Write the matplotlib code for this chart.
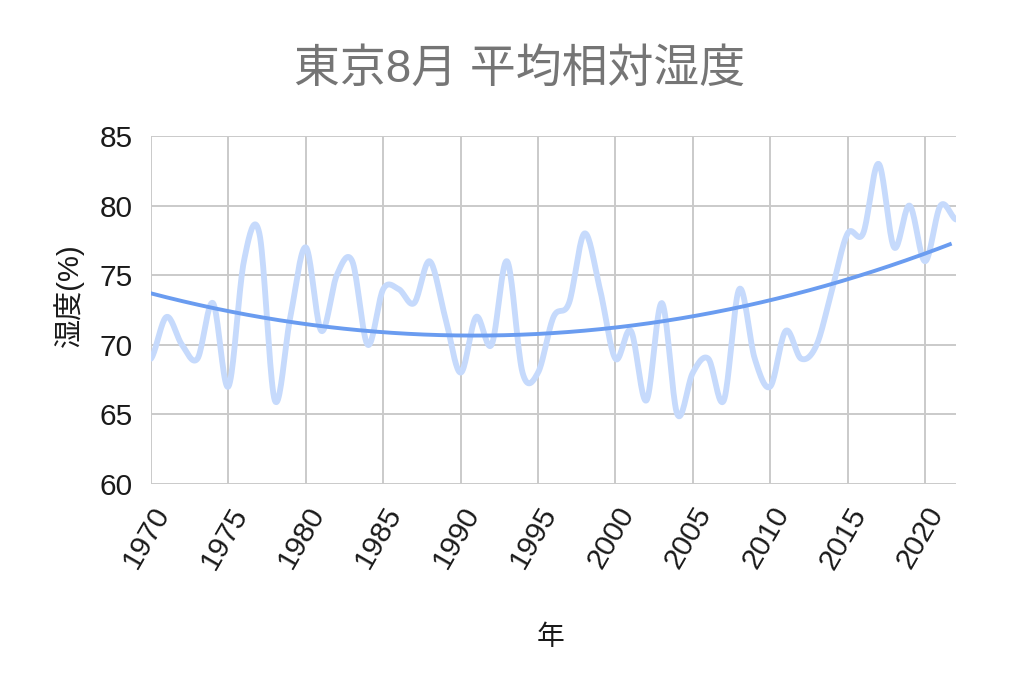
import numpy as np
import matplotlib.pyplot as plt

plt.rcParams['font.family'] = ['Liberation Sans', 'Noto Sans CJK JP', 'DejaVu Sans']

# 年と8月の平均相対湿度(%)
years = np.arange(1970, 2023)
humidity = np.array([
    69, 72, 70, 69, 73, 67, 76, 78, 66, 72,   # 1970-1979
    77, 71, 75, 76, 70, 74, 74, 73, 76, 72,   # 1980-1989
    68, 72, 70, 76, 68, 68, 72, 73, 78, 74,   # 1990-1999
    69, 71, 66, 73, 65, 68, 69, 66, 74, 69,   # 2000-2009
    67, 71, 69, 70, 74, 78, 78, 83, 77, 80,   # 2010-2019
    76, 80, 79,                               # 2020-2022
])
xticks = np.arange(1970, 2021, 5)
yticks = np.arange(60, 86, 5)


def smooth(x, y, n=20, t=0.5):
    # cardinal spline through the points (like the sheet's smooth line)
    xs, ys = [], []
    px = np.concatenate([[2 * x[0] - x[1]], x, [2 * x[-1] - x[-2]]])
    py = np.concatenate([[y[0]], y, [y[-1]]])
    s = np.linspace(0, 1, n, endpoint=False)
    h00 = 2 * s**3 - 3 * s**2 + 1
    h10 = s**3 - 2 * s**2 + s
    h01 = -2 * s**3 + 3 * s**2
    h11 = s**3 - s**2
    for i in range(1, len(px) - 2):
        mx0 = t * (px[i + 1] - px[i - 1]); mx1 = t * (px[i + 2] - px[i])
        my0 = t * (py[i + 1] - py[i - 1]); my1 = t * (py[i + 2] - py[i])
        xs.append(h00 * px[i] + h10 * mx0 + h01 * px[i + 1] + h11 * mx1)
        ys.append(h00 * py[i] + h10 * my0 + h01 * py[i + 1] + h11 * my1)
    xs.append([x[-1]]); ys.append([y[-1]])
    return np.concatenate(xs), np.concatenate(ys)


sx, sy = smooth(years.astype(float), humidity.astype(float))

# 2次の近似曲線
coef = np.polyfit(years - 1970, humidity, 2)
tx = np.linspace(1970, 2021.6, 200)
ty = np.polyval(coef, tx - 1970)

fig = plt.figure(figsize=(10.24, 6.81), dpi=100)
ax = fig.add_axes([151 / 1024, 1 - 484 / 681, (956 - 151) / 1024, (484 - 136) / 681])

ax.plot(sx, sy, color='#c6dafc', lw=4.2, solid_capstyle='round', zorder=3)
ax.plot(tx, ty, color='#6a9cf0', lw=2.8, zorder=4)

ax.set_xlim(1970, 2022)
ax.set_ylim(60, 85)
ax.set_xticks(xticks)
ax.set_yticks(yticks)
ax.set_xticklabels([str(v) for v in xticks], rotation=60, ha='right', va='top',
                   rotation_mode='anchor')
ax.tick_params(axis='both', length=0, labelsize=21.5, colors='#1a1a1a')
ax.tick_params(axis='y', pad=13)
ax.tick_params(axis='x', pad=13)
ax.grid(True, color='#cacaca', lw=1.4)
ax.set_axisbelow(True)
for sp in ax.spines.values():
    sp.set_visible(False)

fig.text(68 / 1024, 1 - 295 / 681, '湿度(%)', fontsize=21, color='#1a1a1a',
         rotation=90, ha='center', va='center')
fig.text(551 / 1024, 1 - 638 / 681, '年', fontsize=20, color='#1a1a1a',
         ha='center', va='center')
fig.text(520 / 1024, 1 - 70 / 681, '東京8月 平均相対湿度', fontsize=33,
         color='#757575', ha='center', va='center')

fig.savefig('out.png', dpi=100)
